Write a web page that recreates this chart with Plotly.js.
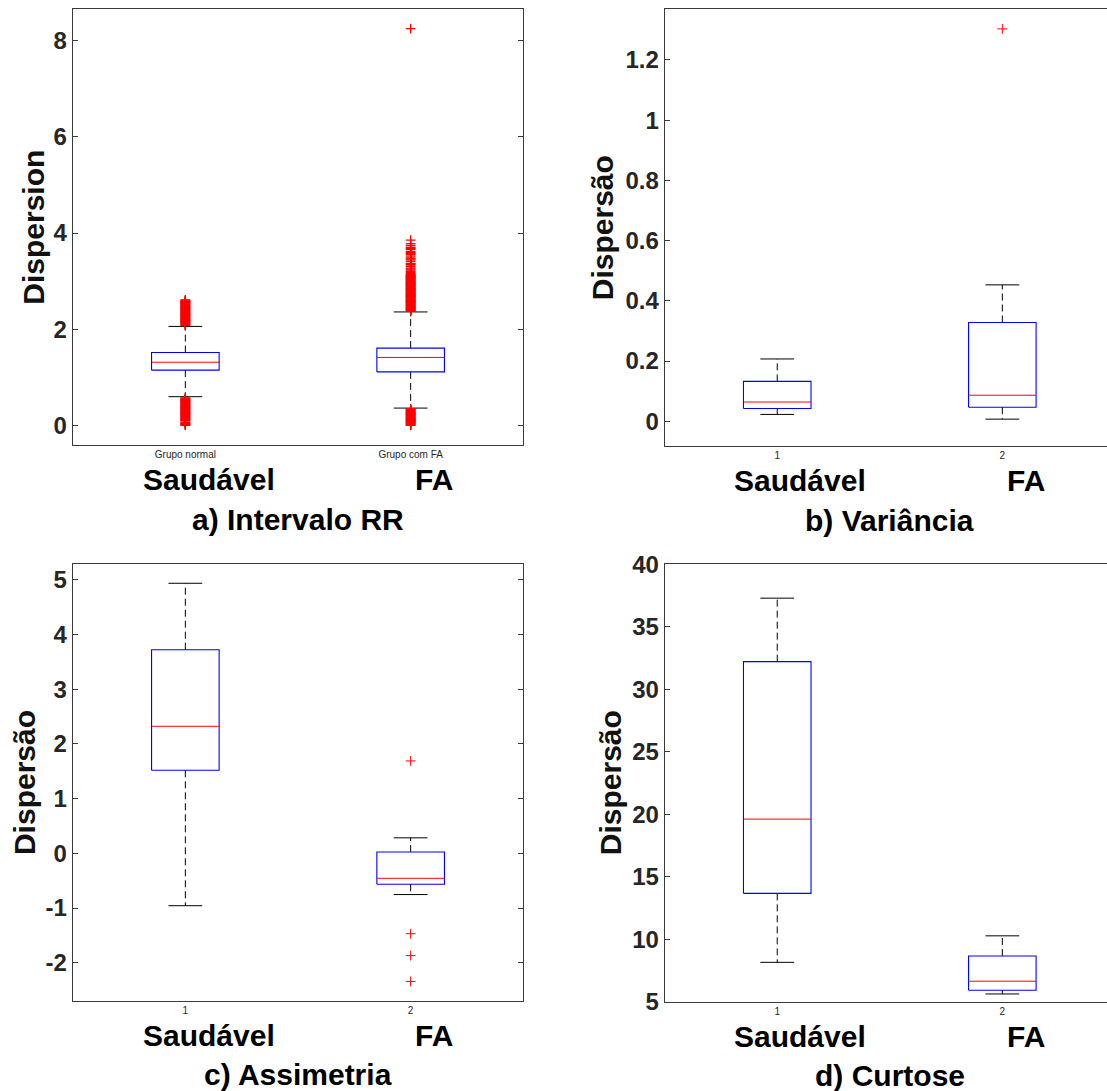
<!DOCTYPE html>
<html>
<head>
<meta charset="utf-8">
<script src="https://cdn.plot.ly/plotly-3.0.1.min.js"></script>
<style>html,body{margin:0;padding:0;background:#fff;overflow:hidden}</style>
</head>
<body>
<div id="chart" style="width:1107px;height:1091px"></div>
<script>
// ---------- data ----------
const groupPositions = [1, 2];
const groupNames = ['Saudável', 'FA'];
const tickLabelsRR = ['Grupo normal', 'Grupo com FA'];
const tickLabelsNum = ['1', '2'];
const panelTitles = ['a) Intervalo RR', 'b) Variância', 'c) Assimetria', 'd) Curtose'];
const yTitles = ['Dispersion', 'Dispersão', 'Dispersão', 'Dispersão'];

// a) Intervalo RR
const rrQ1 = [1.147, 1.111];
const rrMedian = [1.312, 1.412];
const rrQ3 = [1.513, 1.606];
const rrLower = [0.595, 0.358];
const rrUpper = [2.057, 2.358];
const rrOutSaudavel = [2.08, 2.09, 2.10, 2.11, 2.12, 2.13, 2.14, 2.15, 2.16, 2.17, 2.18, 2.19, 2.20, 2.21,
  2.22, 2.23, 2.24, 2.25, 2.26, 2.27, 2.28, 2.29, 2.30, 2.31, 2.32, 2.33, 2.34, 2.35, 2.36, 2.37,
  2.38, 2.39, 2.40, 2.41, 2.42, 2.43, 2.44, 2.45, 2.46, 2.47, 2.48, 2.49, 2.50, 2.51, 2.52, 2.53,
  2.54, 2.55, 2.56, 2.57, 2.58, 2.59, 2.60, 2.61,
  0.57, 0.56, 0.55, 0.54, 0.53, 0.52, 0.51, 0.50, 0.49, 0.48, 0.47, 0.46, 0.45, 0.44, 0.43, 0.42,
  0.41, 0.40, 0.39, 0.38, 0.37, 0.36, 0.35, 0.34, 0.33, 0.32, 0.31, 0.30, 0.29, 0.28, 0.27, 0.26,
  0.25, 0.24, 0.23, 0.22, 0.21, 0.20, 0.19, 0.18, 0.17, 0.16, 0.15, 0.14, 0.13, 0.12, 0.11, 0.10,
  0.09, 0.06, 0.05, 0.04, 0.03, 0.02, 0.01, 0.00];
const rrOutFA = [2.37, 2.38, 2.39, 2.40, 2.41, 2.42, 2.43, 2.44, 2.45, 2.46, 2.47, 2.48, 2.49, 2.50,
  2.51, 2.52, 2.53, 2.54, 2.55, 2.56, 2.57, 2.58, 2.59, 2.60, 2.61, 2.62, 2.63, 2.64, 2.65, 2.66,
  2.67, 2.68, 2.69, 2.70, 2.71, 2.72, 2.73, 2.74, 2.75, 2.76, 2.77, 2.78, 2.79, 2.80, 2.81, 2.82,
  2.83, 2.84, 2.85, 2.86, 2.87, 2.88, 2.89, 2.90, 2.91, 2.92, 2.93, 2.94, 2.95, 2.96, 2.97, 2.98,
  2.99, 3.00, 3.01, 3.02, 3.03, 3.04, 3.05, 3.06, 3.07, 3.08, 3.09, 3.10, 3.11, 3.12, 3.13, 3.14, 3.16,
  3.18, 3.20, 3.23, 3.25, 3.27, 3.30, 3.33, 3.35, 3.37, 3.41, 3.44, 3.46, 3.48, 3.52, 3.55, 3.57,
  3.59, 3.62, 3.66, 3.68, 3.70, 3.74, 3.78, 3.85, 8.25,
  0.34, 0.33, 0.32, 0.31, 0.30, 0.29, 0.28, 0.27, 0.26, 0.25, 0.24, 0.23, 0.22, 0.21, 0.20, 0.19,
  0.18, 0.17, 0.16, 0.15, 0.14, 0.13, 0.12, 0.11, 0.10, 0.09, 0.08, 0.07, 0.06, 0.05, 0.04, 0.03,
  0.02, 0.01, 0.00];
const rrTicks = [0, 2, 4, 6, 8];
const rrTickText = ['0', '2', '4', '6', '8'];

// b) Variância
const varQ1 = [0.0423, 0.0467];
const varMedian = [0.064, 0.0866];
const varQ3 = [0.1326, 0.328];
const varLower = [0.0229, 0.0072];
const varUpper = [0.207, 0.453];
const varOutSaudavel = [];
const varOutFA = [1.303];
const varTicks = [0, 0.2, 0.4, 0.6, 0.8, 1, 1.2];
const varTickText = ['0', '0.2', '0.4', '0.6', '0.8', '1', '1.2'];

// c) Assimetria
const skewQ1 = [1.517, -0.565];
const skewMedian = [2.322, -0.457];
const skewQ3 = [3.722, 0.023];
const skewLower = [-0.958, -0.754];
const skewUpper = [4.936, 0.283];
const skewOutSaudavel = [];
const skewOutFA = [1.689, -1.47, -1.87, -2.342];
const skewTicks = [-2, -1, 0, 1, 2, 3, 4, 5];
const skewTickText = ['-2', '-1', '0', '1', '2', '3', '4', '5'];

// d) Curtose
const kurtQ1 = [13.67, 5.92];
const kurtMedian = [19.61, 6.64];
const kurtQ3 = [32.21, 8.66];
const kurtLower = [8.15, 5.62];
const kurtUpper = [37.29, 10.27];
const kurtOutSaudavel = [];
const kurtOutFA = [];
const kurtTicks = [5, 10, 15, 20, 25, 30, 35, 40];
const kurtTickText = ['5', '10', '15', '20', '25', '30', '35', '40'];

// ---------- styling ----------
const FONT = 'Liberation Sans, Arial, Helvetica, sans-serif';
const BOX_WIDTH = 0.3;
const CAP_WIDTH = 0.15;
const AXIS_COLOR = '#3a3a3a';
const TICK_COLOR = '#262626';

const panels = [
  {q1: rrQ1, med: rrMedian, q3: rrQ3, lo: rrLower, hi: rrUpper, out: [rrOutSaudavel, rrOutFA],
   ticks: rrTicks, tickText: rrTickText, xTicks: tickLabelsRR, yRange: [-0.41, 8.66],
   xRange: [0.5, 2.5], xDom: [0.06567, 0.47272], yDom: [0.59211, 0.99175], mirror: 'ticks', ytShift: -40, mw: 1.3},
  {q1: varQ1, med: varMedian, q3: varQ3, lo: varLower, hi: varUpper, out: [varOutSaudavel, varOutFA],
   ticks: varTicks, tickText: varTickText, xTicks: tickLabelsNum, yRange: [-0.082, 1.369],
   xRange: [0.5, 2.465], xDom: [0.60045, 1.0], yDom: [0.59120, 0.99175], mirror: false, ytShift: -62, mw: 1},
  {q1: skewQ1, med: skewMedian, q3: skewQ3, lo: skewLower, hi: skewUpper, out: [skewOutSaudavel, skewOutFA],
   ticks: skewTicks, tickText: skewTickText, xTicks: tickLabelsNum, yRange: [-2.70, 5.294],
   xRange: [0.5, 2.5], xDom: [0.06567, 0.47272], yDom: [0.08249, 0.48332], mirror: 'ticks', ytShift: -48, mw: 1},
  {q1: kurtQ1, med: kurtMedian, q3: kurtQ3, lo: kurtLower, hi: kurtUpper, out: [kurtOutSaudavel, kurtOutFA],
   ticks: kurtTicks, tickText: kurtTickText, xTicks: tickLabelsNum, yRange: [5, 40],
   xRange: [0.5, 2.465], xDom: [0.60045, 1.0], yDom: [0.08185, 0.48277], mirror: false, ytShift: -53.5, mw: 1}
];

const traces = [];
const layout = {
  width: 1107, height: 1091, autosize: false,
  margin: {l: 0, r: 0, t: 0, b: 0},
  paper_bgcolor: '#ffffff', plot_bgcolor: '#ffffff',
  showlegend: false, hovermode: false,
  font: {family: FONT, color: TICK_COLOR},
  annotations: []
};

panels.forEach((p, i) => {
  const n = i === 0 ? '' : String(i + 1);
  const xa = 'x' + n, ya = 'y' + n;
  const hb = BOX_WIDTH / 2, hc = CAP_WIDTH / 2;

  const bx = [], by = [], wx = [], wy = [], cx = [], cy = [], mx = [], my = [];
  groupPositions.forEach((pos, g) => {
    bx.push(pos - hb, pos + hb, pos + hb, pos - hb, pos - hb, null);
    by.push(p.q1[g], p.q1[g], p.q3[g], p.q3[g], p.q1[g], null);
    wx.push(pos, pos, null, pos, pos, null);
    wy.push(p.q3[g], p.hi[g], null, p.q1[g], p.lo[g], null);
    cx.push(pos - hc, pos + hc, null, pos - hc, pos + hc, null);
    cy.push(p.hi[g], p.hi[g], null, p.lo[g], p.lo[g], null);
    mx.push(pos - hb, pos + hb, null);
    my.push(p.med[g], p.med[g], null);
  });
  traces.push({type: 'scatter', mode: 'lines', x: wx, y: wy, xaxis: xa, yaxis: ya,
    line: {color: '#000000', width: 1, dash: '7px,4px'}, hoverinfo: 'skip'});
  traces.push({type: 'scatter', mode: 'lines', x: cx, y: cy, xaxis: xa, yaxis: ya,
    line: {color: '#000000', width: 1}, hoverinfo: 'skip'});
  traces.push({type: 'scatter', mode: 'lines', x: bx, y: by, xaxis: xa, yaxis: ya,
    line: {color: '#0000ff', width: 1.1}, hoverinfo: 'skip'});
  traces.push({type: 'scatter', mode: 'lines', x: mx, y: my, xaxis: xa, yaxis: ya,
    line: {color: '#ff0000', width: 1}, hoverinfo: 'skip'});

  const ox = [], oy = [];
  groupPositions.forEach((pos, g) => {
    p.out[g].forEach(v => { ox.push(pos); oy.push(v); });
  });
  traces.push({type: 'scatter', mode: 'markers', x: ox, y: oy, xaxis: xa, yaxis: ya,
    marker: {symbol: 'cross-thin', size: 7, color: '#ff0000', line: {color: '#ff0000', width: p.mw}},
    hoverinfo: 'skip', cliponaxis: false});

  layout['xaxis' + n] = {
    domain: p.xDom, range: p.xRange, anchor: ya, showline: true, linecolor: AXIS_COLOR, linewidth: 1,
    mirror: true, ticks: '', tickmode: 'array', tickvals: groupPositions, ticktext: p.xTicks,
    tickfont: {family: FONT, size: 10, color: TICK_COLOR}, showgrid: false, zeroline: false, fixedrange: true
  };
  layout['yaxis' + n] = {
    domain: p.yDom, range: p.yRange, anchor: xa, showline: true, linecolor: AXIS_COLOR, linewidth: 1,
    mirror: p.mirror, ticks: 'inside', ticklen: 5, tickwidth: 1, tickcolor: AXIS_COLOR,
    tickmode: 'array', tickvals: p.ticks, ticktext: p.tickText,
    tickfont: {family: FONT, size: 24, weight: 'bold', color: TICK_COLOR},
    showgrid: false, zeroline: false, fixedrange: true
  };

  const bigFont = {family: FONT, size: 30, weight: 'bold', color: '#000000'};
  groupNames.forEach((name, g) => {
    layout.annotations.push({
      text: name, xref: xa, x: groupPositions[g] + 0.103, yref: ya + ' domain', y: 0,
      xanchor: 'center', yanchor: 'middle', yshift: -34.5, showarrow: false, font: bigFont
    });
  });
  layout.annotations.push({
    text: panelTitles[i], xref: xa, x: 1.5, yref: ya + ' domain', y: 0,
    xanchor: 'center', yanchor: 'middle', yshift: i >= 2 ? -73.5 : -74.5, showarrow: false, font: bigFont
  });
  layout.annotations.push({
    text: yTitles[i], xref: xa + ' domain', x: 0, xshift: p.ytShift, yref: ya + ' domain', y: 0.5,
    xanchor: 'center', yanchor: 'middle', textangle: -90, showarrow: false,
    font: {family: FONT, size: 30, weight: 'bold', color: '#111111'}
  });
});

Plotly.newPlot('chart', traces, layout, {staticPlot: true, displayModeBar: false});
</script>
</body>
</html>
